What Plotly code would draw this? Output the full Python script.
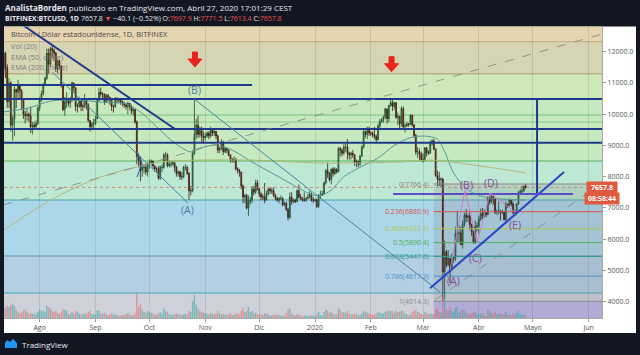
import plotly.graph_objects as go
import pandas as pd

# ---------------- DATA ----------------
close_jul = [11950, 11500, 10400, 11000, 9650, 9850, 10800, 10700, 10900, 10750, 10450, 10000, 9950, 10000, 9950, 9600, 9650, 9600, 9700, 10200]
high_jul = [12100, 12000, 11600, 11150, 11050, 9950, 10900, 10800, 11100, 10950, 10800, 10450, 10100, 10200, 10050, 10250, 9750, 9750, 9800, 10250]
low_jul = [11200, 11150, 10200, 10200, 9450, 9150, 9300, 10200, 10500, 10500, 10150, 9850, 9700, 9800, 9750, 9400, 9350, 9500, 9550, 9650]

close_aug = [10450, 10650, 10950, 11150, 11950, 11600, 12100, 12050, 11950, 11450, 11700, 11550, 10950, 10150, 10400, 10450, 10350, 10450, 11000, 10850, 10250, 10250, 10500, 10250, 10250, 10450, 10300, 9800, 9600, 9700, 9700]
high_aug = [10550, 10750, 11000, 11200, 12100, 12100, 12150, 12200, 12100, 12000, 11750, 11750, 11550, 10950, 10550, 10700, 10500, 10550, 11050, 11000, 10850, 10350, 10550, 10500, 10350, 10650, 10500, 10350, 9800, 9750, 9850]
low_aug = [10100, 10400, 10600, 10900, 11100, 11300, 11500, 11800, 11700, 11350, 11300, 11450, 10850, 10100, 9950, 10200, 10250, 10200, 10400, 10700, 10100, 10050, 10200, 10100, 10100, 10200, 10150, 9750, 9450, 9500, 9550]

close_sep = [9850, 10450, 10700, 10650, 10650, 10400, 10600, 10550, 10450, 10250, 10250, 10500, 10450, 10450, 10400, 10350, 10300, 10250, 10350, 10250, 10100, 10150, 9750, 8650, 8550, 8200, 8300, 8300, 8150, 8400]
high_sep = [9950, 10500, 10850, 10850, 10700, 10650, 10650, 10650, 10550, 10450, 10300, 10550, 10550, 10500, 10450, 10450, 10400, 10350, 10400, 10350, 10300, 10200, 10150, 9800, 8750, 8650, 8400, 8400, 8400, 8450]
low_sep = [9650, 9850, 10400, 10550, 10500, 10300, 10350, 10400, 10300, 10100, 10050, 10200, 10350, 10350, 10300, 10250, 10200, 10150, 10000, 10150, 10000, 9950, 9700, 8400, 8300, 7850, 8000, 8100, 8050, 8000]

close_oct = [8450, 8500, 8350, 8250, 8250, 7950, 8300, 8300, 8700, 8700, 8350, 8400, 8400, 8450, 8300, 8100, 8150, 8000, 8000, 8300, 8300, 8100, 7550, 7550, 8750, 9350, 9650, 9350, 9550, 9300, 9250]
high_oct = [8550, 8550, 8500, 8350, 8300, 8350, 8350, 8400, 8750, 8800, 8750, 8500, 8500, 8500, 8450, 8350, 8200, 8200, 8150, 8350, 8400, 8350, 8150, 7700, 8850, 10490, 9850, 9950, 9600, 9600, 9450]
low_oct = [8250, 8350, 8250, 8150, 8150, 7900, 7900, 8150, 8250, 8500, 8300, 8300, 8300, 8350, 8150, 8000, 8000, 7900, 7900, 7950, 8200, 8050, 7250, 7400, 7500, 8700, 9200, 9250, 9250, 9100, 9050]

close_nov = [9300, 9400, 9300, 9500, 9400, 9450, 9300, 8850, 8900, 9100, 8800, 8900, 8850, 8700, 8550, 8550, 8550, 8250, 8200, 8150, 7700, 7350, 7400, 7000, 7200, 7250, 7600, 7500, 7800, 7600]
high_nov = [9400, 9450, 9450, 9600, 9550, 9500, 9450, 9350, 8950, 9200, 9150, 8950, 8900, 8850, 8700, 8600, 8650, 8600, 8300, 8250, 8150, 7750, 7450, 7450, 7400, 7350, 7700, 7700, 7900, 7900]
low_nov = [9150, 9250, 9200, 9250, 9300, 9300, 9200, 8750, 8750, 8850, 8700, 8750, 8750, 8650, 8450, 8450, 8450, 8200, 8100, 8000, 7600, 7150, 7150, 6950, 6750, 7100, 7150, 7400, 7450, 7550]

close_dec = [7450, 7350, 7350, 7250, 7450, 7600, 7550, 7550, 7400, 7300, 7250, 7300, 7300, 7100, 7150, 6950, 6700, 7350, 7200, 7250, 7200, 7550, 7350, 7300, 7250, 7250, 7300, 7350, 7450, 7250, 7250]
high_dec = [7650, 7500, 7450, 7800, 7550, 7650, 7650, 7650, 7650, 7450, 7350, 7350, 7400, 7350, 7200, 7200, 7000, 7500, 7500, 7300, 7300, 7600, 7750, 7450, 7350, 7500, 7350, 7450, 7550, 7500, 7350]
low_dec = [7350, 7250, 7250, 7150, 7250, 7400, 7450, 7450, 7350, 7250, 7200, 7150, 7250, 7050, 7050, 6900, 6600, 6650, 7100, 7150, 7150, 7200, 7300, 7250, 7200, 7200, 7200, 7300, 7300, 7200, 7150]

close_jan = [7250, 7050, 7400, 7400, 7450, 7800, 8200, 8100, 7900, 8250, 8100, 8250, 8150, 8900, 8850, 8750, 8950, 8950, 8750, 8700, 8750, 8700, 8450, 8500, 8400, 8650, 8950, 9450, 9350, 9550, 9400]
high_jan = [7300, 7300, 7450, 7550, 7550, 7850, 8250, 8450, 8150, 8250, 8300, 8300, 8250, 8950, 8950, 8900, 9050, 9050, 9200, 8800, 8800, 8850, 8700, 8550, 8500, 8700, 9000, 9500, 9450, 9600, 9600]
low_jan = [7200, 7000, 7000, 7300, 7400, 7450, 7750, 7950, 7850, 7750, 8000, 8050, 8100, 8150, 8650, 8650, 8700, 8800, 8550, 8550, 8550, 8600, 8350, 8300, 8300, 8350, 8650, 8900, 9250, 9200, 9300]

close_feb = [9380, 9340, 9290, 9180, 9620, 9770, 9810, 9910, 10170, 9860, 10270, 10370, 10250, 10370, 9900, 9930, 9700, 10180, 9600, 9620, 9690, 9670, 9970, 9660, 9320, 8790, 8800, 8720, 8550]
high_feb = [9450, 9450, 9600, 9350, 9700, 9850, 9880, 9950, 10200, 10170, 10300, 10480, 10500, 10400, 10380, 10050, 9950, 10250, 10250, 9700, 9750, 9720, 10000, 9980, 9680, 9370, 8950, 8900, 8800]
low_feb = [9300, 9250, 9200, 9100, 9170, 9550, 9720, 9730, 9850, 9700, 9750, 10250, 10100, 10150, 9850, 9650, 9550, 9600, 9550, 9420, 9600, 9600, 9650, 9600, 9250, 8700, 8600, 8500, 8500]

close_mar = [8530, 8920, 8760, 8750, 9070, 9150, 8890, 8030, 7930, 7900, 7930, 4950, 5600, 5180, 5380, 5020, 5360, 5410, 6180, 6190, 6200, 5830, 6480, 6770, 6700, 6740, 6470, 6250, 5880, 6400, 6430]
high_mar = [8750, 8950, 8950, 8850, 9150, 9200, 9200, 8900, 8200, 8150, 7980, 7950, 5950, 5650, 5650, 5400, 5550, 5450, 6400, 6900, 6450, 6400, 6600, 6850, 6960, 6800, 6880, 6500, 6260, 6600, 6550]
low_mar = [8450, 8500, 8650, 8700, 8730, 9000, 8850, 8000, 7700, 7700, 7650, 4014, 4100, 5100, 5150, 4600, 5000, 5250, 5300, 5900, 5870, 5800, 5700, 6400, 6550, 6550, 6300, 6100, 5880, 5850, 6250]

close_apr = [6650, 6810, 6740, 6860, 6780, 7340, 7200, 7370, 7300, 6870, 6890, 6910, 6850, 6860, 6630, 7120, 7080, 7260, 7130, 6850, 6860, 7130, 7490, 7520, 7540, 7697.9, 7657.8]
high_apr = [6750, 6980, 7000, 6950, 6880, 7370, 7470, 7430, 7380, 7300, 6950, 7200, 6930, 6950, 6900, 7200, 7150, 7300, 7270, 7200, 6950, 7150, 7550, 7600, 7700, 7710, 7771.5]
low_apr = [6180, 6580, 6650, 6700, 6700, 6790, 7100, 7150, 7100, 6800, 6770, 6800, 6600, 6800, 6600, 6500, 7000, 7050, 7050, 6800, 6750, 6830, 7100, 7420, 7450, 7530, 7613.4]

vol_jul = [45, 40, 50, 45, 55, 60, 50, 35, 25, 20, 25, 30, 35, 25, 20, 20, 18, 15, 18, 25]
vol_aug = [35, 30, 30, 25, 50, 45, 40, 30, 25, 30, 20, 18, 25, 35, 35, 30, 18, 15, 25, 20, 30, 25, 20, 15, 15, 20, 15, 25, 30, 18, 15]
vol_sep = [15, 30, 30, 20, 18, 22, 15, 12, 15, 18, 15, 15, 12, 10, 10, 12, 12, 15, 20, 14, 12, 10, 20, 100, 45, 55, 35, 25, 22, 30]
vol_oct = [25, 20, 18, 15, 12, 18, 25, 18, 40, 30, 25, 15, 12, 14, 15, 18, 14, 15, 10, 15, 18, 14, 30, 25, 70, 95, 55, 40, 30, 25, 22]
vol_nov = [20, 18, 15, 20, 18, 15, 18, 30, 18, 15, 18, 14, 12, 15, 20, 12, 12, 20, 18, 15, 30, 40, 25, 30, 45, 25, 30, 20, 22, 15]
vol_dec = [15, 14, 12, 20, 18, 15, 10, 10, 12, 14, 12, 12, 10, 10, 8, 20, 35, 40, 20, 12, 10, 15, 15, 10, 8, 10, 10, 8, 10, 12, 10]
vol_jan = [8, 15, 25, 12, 10, 25, 35, 30, 20, 25, 18, 15, 15, 40, 35, 22, 25, 20, 30, 15, 15, 14, 18, 15, 10, 12, 20, 30, 25, 22, 20]
vol_feb = [15, 12, 15, 18, 25, 22, 20, 18, 25, 30, 28, 30, 28, 22, 30, 25, 25, 30, 30, 20, 15, 10, 15, 25, 30, 35, 25, 22, 18]
vol_mar = [15, 25, 20, 15, 20, 18, 15, 35, 40, 25, 22, 90, 110, 35, 30, 45, 30, 25, 40, 45, 25, 30, 35, 30, 22, 18, 20, 18, 25, 25, 15]
vol_apr = [20, 18, 18, 12, 10, 35, 30, 20, 15, 25, 15, 18, 20, 12, 15, 25, 15, 15, 10, 20, 18, 22, 30, 15, 12, 18, 10]

first_open = 11400

# EMA lines
ema50_dates = ["2019-07-12", "2019-07-26", "2019-08-07", "2019-08-21", "2019-09-04", "2019-09-18", "2019-09-26",
               "2019-10-07", "2019-10-15", "2019-10-24", "2019-10-29", "2019-11-08", "2019-11-18", "2019-11-27",
               "2019-12-07", "2019-12-17", "2019-12-27", "2020-01-03", "2020-01-10", "2020-01-17", "2020-01-26",
               "2020-02-05", "2020-02-14", "2020-02-23", "2020-03-02", "2020-03-09", "2020-03-13", "2020-03-18",
               "2020-03-26", "2020-04-04", "2020-04-15", "2020-04-27"]
ema50_vals = [10070, 10200, 10420, 10450, 10390, 10330, 10070, 9490, 9080, 8790, 8920, 9010, 8790, 8470,
              8150, 7830, 7510, 7380, 7570, 8000, 8300, 8600, 9000, 9250, 9300, 9200, 8800, 8120,
              7570, 7350, 7280, 7250]
ema200_dates = ["2019-07-12", "2019-08-07", "2019-09-04", "2019-10-07", "2019-10-29", "2019-11-27",
                "2020-01-02", "2020-01-26", "2020-02-17", "2020-03-06", "2020-04-02", "2020-04-27"]
ema200_vals = [6290, 7250, 7990, 8470, 8530, 8530, 8440, 8440, 8470, 8530, 8340, 8120]

# Fibonacci retracement (right box)
fib_ratios = ["0", "0.236", "0.382", "0.5", "0.618", "0.786", "1"]
fib_prices = [7766.4, 6880.9, 6333.1, 5890.4, 5447.6, 4817.3, 4014.3]
fib_colors = ["#8f8580", "#d9534f", "#b3c647", "#4caf50", "#2a9d8f", "#4f8fc6", "#8a8a8a"]

month_ticks = ["2019-08-01", "2019-09-01", "2019-10-01", "2019-11-01", "2019-12-01", "2020-01-01",
               "2020-02-01", "2020-03-01", "2020-04-01", "2020-05-01", "2020-06-01"]
month_labels = ["Ago", "Sep", "Oct", "Nov", "Dic", "2020", "Feb", "Mar", "Abr", "Mayo", "Jun"]
price_ticks = [4000, 5000, 6000, 7000, 8000, 9000, 10000, 11000, 12000]

# ---------------- assemble ----------------
closes = close_jul + close_aug + close_sep + close_oct + close_nov + close_dec + close_jan + close_feb + close_mar + close_apr
highs = high_jul + high_aug + high_sep + high_oct + high_nov + high_dec + high_jan + high_feb + high_mar + high_apr
lows = low_jul + low_aug + low_sep + low_oct + low_nov + low_dec + low_jan + low_feb + low_mar + low_apr
volumes = vol_jul + vol_aug + vol_sep + vol_oct + vol_nov + vol_dec + vol_jan + vol_feb + vol_mar + vol_apr
dates = pd.date_range("2019-07-12", "2020-04-27", freq="D")
assert len(dates) == len(closes) == len(highs) == len(lows) == len(volumes)
opens = [first_open] + closes[:-1]
highs = [max(h, o, c) for h, o, c in zip(highs, opens, closes)]
lows = [min(l, o, c) for l, o, c in zip(lows, opens, closes)]
vol_colors = ["rgba(38,166,154,0.55)" if c >= o else "rgba(239,83,80,0.5)" for o, c in zip(opens, closes)]

W, H = 640, 355
def px(x):
    return x / W
def py(y):
    return 1 - y / H

FONT = "Open Sans"
fig = go.Figure()
fig.add_trace(go.Bar(x=dates, y=volumes, marker_color=vol_colors, marker_line_width=0, yaxis="y2",
                     width=0.75 * 86400000, hoverinfo="skip", showlegend=False))
fig.add_trace(go.Candlestick(x=dates, open=opens, high=highs, low=lows, close=closes, whiskerwidth=0,
                             increasing=dict(line=dict(color="#1f4a2e", width=0.8), fillcolor="#3f9a5c"),
                             decreasing=dict(line=dict(color="#3d1710", width=0.8), fillcolor="#a8402f"),
                             showlegend=False))
fig.add_trace(go.Scatter(x=ema50_dates, y=ema50_vals, mode="lines", line=dict(color="#5a9696", width=1, shape="spline", smoothing=0.8),
                         hoverinfo="skip", showlegend=False))
fig.add_trace(go.Scatter(x=ema200_dates, y=ema200_vals, mode="lines", line=dict(color="#b3b878", width=1, shape="spline", smoothing=0.8),
                         hoverinfo="skip", showlegend=False))

shapes = []
# white axis panels
shapes.append(dict(type="rect", xref="paper", yref="paper", x0=px(602), x1=px(636), y0=py(333), y1=py(26.5),
                   fillcolor="white", line_width=0, layer="below"))
shapes.append(dict(type="rect", xref="paper", yref="paper", x0=px(4), x1=px(636), y0=py(333), y1=py(318),
                   fillcolor="white", line_width=0, layer="below"))

# background bands
bands = [(12320, 13500, "#e6d5b1"), (11290, 12320, "#d6d5b3"), (10486, 11290, "#cfe8b9"),
         (8502, 10486, "#c6e9bf"), (7254, 8502, "#bde8d3"), (5462, 7254, "#acd7ea"),
         (4278, 5462, "#b3cfe4"), (3000, 4278, "#cfd1da")]
for a, b, c in bands:
    shapes.append(dict(type="rect", xref="x domain", x0=0, x1=1, yref="y", y0=a, y1=b,
                       fillcolor=c, line_width=0, layer="below"))
# fib box overlays
shapes.append(dict(type="rect", xref="x", x0="2020-03-06 22:00", x1="2020-06-20", yref="y", y0=4014.3, y1=7766.4,
                   fillcolor="rgba(130,130,140,0.22)", line_width=0, layer="below"))
shapes.append(dict(type="rect", xref="x", x0="2020-03-06 22:00", x1="2020-06-20", yref="y", y0=3000, y1=4014.3,
                   fillcolor="rgba(120,100,205,0.35)", line_width=0, layer="below"))

def hline(price, color, width=1, x0=None, x1=None, dash="solid", layer="above"):
    if x0 is None:
        return dict(type="line", xref="x domain", x0=0, x1=1, yref="y", y0=price, y1=price,
                    line=dict(color=color, width=width, dash=dash), layer=layer)
    return dict(type="line", xref="x", x0=x0, x1=x1, yref="y", y0=price, y1=price,
                line=dict(color=color, width=width, dash=dash), layer=layer)

# left full-width level lines
for p_, c_ in [(12320, "#c2aa7c"), (11290, "#a99b6a"), (9974, "#72c276"), (9750, "#84cc84"),
               (8502, "#55b45a"), (7254, "#40a6ad"), (5462, "#6496aa"), (4278, "#3fa3b3")]:
    shapes.append(hline(p_, c_, 1, layer="below"))
# current price line
shapes.append(hline(7657.8, "rgba(214,110,90,0.8)", 1, dash="dot"))
# fib box level lines
for p_, c_ in zip(fib_prices, fib_colors):
    shapes.append(hline(p_, c_, 1, x0="2020-03-06 22:00", x1="2020-06-20"))

NAVY = "#1f3a8c"
shapes.append(hline(10934, NAVY, 2, x0="2019-07-01", x1="2019-11-27"))
shapes.append(hline(10486, NAVY, 2))
shapes.append(hline(9526, NAVY, 2))
shapes.append(hline(9088, NAVY, 2))

def seg(xa, ya, xb, yb, color, width=1, dash="solid"):
    return dict(type="line", xref="x", yref="y", x0=xa, y0=ya, x1=xb, y1=yb,
                line=dict(color=color, width=width, dash=dash))

shapes.append(seg("2019-07-21", 12918, "2019-10-15 05:00", 9526, NAVY, 2))
shapes.append(seg("2019-08-08", 11350, "2019-10-22 10:00", 7158, "#3f86a6", 1))
shapes.append(seg("2019-10-25 20:00", 10486, "2020-03-10 10:00", 4310, "#3f86a6", 1))
shapes.append(seg("2019-07-11 16:00", 7094, "2020-06-08 10:00", 12566, "rgba(130,130,130,0.8)", 1, "dash"))
shapes.append(seg("2020-03-07 16:00", 4054, "2020-06-08 10:00", 7798, "rgba(130,130,130,0.8)", 1, "dash"))
shapes.append(seg("2020-03-04 22:00", 4429, "2020-05-18 08:00", 8150, "#2746c8", 2))
shapes.append(seg("2020-02-13 08:00", 7446, "2020-05-23 08:00", 7446, "#5a4fc2", 2))
shapes.append(seg("2020-05-03 08:00", 10486, "2020-05-03 08:00", 7478, NAVY, 2))
# small blue marks near the September drop
shapes.append(seg("2019-09-24 03:00", 8758, "2019-09-26 22:00", 8438, "#2a4fd0", 1))
shapes.append(seg("2019-09-26 22:00", 8438, "2019-09-24 03:00", 7990, "#2a4fd0", 1))
# pink wave path
wave_x = ["2020-03-16", "2020-03-24 08:00", "2020-03-31", "2020-04-07 05:00", "2020-04-21 03:00"]
wave_y = [5014, 7574, 5878, 7478, 6870]
for i in range(len(wave_x) - 1):
    shapes.append(seg(wave_x[i], wave_y[i], wave_x[i + 1], wave_y[i + 1], "#d377cf", 1))

# red down arrows (fixed pixel size, anchored at their tip)
ARROW = "M 0,0 L -7,8 L -2.5,8 L -2.5,15 L 2.5,15 L 2.5,8 L 7,8 Z"
for xd, yv in [("2019-10-26 07:00", 11510), ("2020-02-12 12:00", 11360)]:
    shapes.append(dict(type="path", xref="x", yref="y", xsizemode="pixel", ysizemode="pixel",
                       xanchor=xd, yanchor=yv, path=ARROW, fillcolor="#e8241c",
                       line=dict(color="#e8241c", width=1)))

# tradingview logo (footer)
shapes.append(dict(type="path", xref="paper", yref="paper",
                   path=f"M {px(5)},{py(348)} L {px(17)},{py(348)} L {px(17)},{py(343)} L {px(13)},{py(339)} L {px(10)},{py(342)} L {px(7)},{py(340)} L {px(5)},{py(343)} Z",
                   fillcolor="#2196f3", line_width=0))

annotations = []
# header
annotations.append(dict(xref="paper", yref="paper", x=px(3), y=py(7.5), xanchor="left", yanchor="middle", showarrow=False,
                        text="<b>AnalistaBorden</b> publicado en TradingView.com, Abril 27, 2020 17:01:29 CEST",
                        font=dict(family=FONT, size=8, color="#e6e8ee")))
R = "#ef5350"
annotations.append(dict(xref="paper", yref="paper", x=px(3), y=py(18), xanchor="left", yanchor="middle", showarrow=False,
                        text=(f"<b>BITFINEX:BTCUSD, 1D</b> 7657.8 <span style='color:{R}'>▼</span> −40.1 (−0.52%) "
                              f"O:<span style='color:{R}'>7697.9</span> H:<span style='color:{R}'>7771.5</span> "
                              f"L:<span style='color:{R}'>7613.4</span> C:<span style='color:{R}'>7657.8</span>"),
                        font=dict(family=FONT, size=7, color="#e6e8ee")))
# legend texts
annotations.append(dict(xref="paper", yref="paper", x=px(9), y=py(34), xanchor="left", yanchor="middle", showarrow=False,
                        text="Bitcoin / Dólar estadounidense, 1D, BITFINEX", font=dict(family=FONT, size=7.5, color="#4a4a4a")))
for yy, t in [(46, "Vol (20)"), (57, "EMA (50, close)"), (67.5, "EMA (200, close)")]:
    annotations.append(dict(xref="paper", yref="paper", x=px(9), y=py(yy), xanchor="left", yanchor="middle", showarrow=False,
                            text=t, font=dict(family=FONT, size=7.5, color="#7d7d7d")))
# footer
annotations.append(dict(xref="paper", yref="paper", x=px(20), y=py(344), xanchor="left", yanchor="middle", showarrow=False,
                        text="TradingView", font=dict(family=FONT, size=8, color="#e6e8ee")))
# wave labels
for xd, yv, t, c in [("2019-10-21 22:00", 6934, "(A)", "#4d7ea3"), ("2019-10-26 07:00", 10774, "(B)", "#4d7ea3"),
                     ("2020-03-17 17:00", 4662, "(A)", "#8a4c9e"), ("2020-03-24 22:00", 7734, "(B)", "#8a4c9e"),
                     ("2020-03-30 10:00", 5398, "(C)", "#8a4c9e"), ("2020-04-07 19:00", 7798, "(D)", "#8a4c9e"),
                     ("2020-04-21 03:00", 6454, "(E)", "#8a4c9e")]:
    annotations.append(dict(xref="x", yref="y", x=xd, y=yv, showarrow=False, text=t,
                            font=dict(family=FONT, size=10.5, color=c)))
# fib labels
for r_, p_, c_ in zip(fib_ratios, fib_prices, fib_colors):
    annotations.append(dict(xref="x", yref="y", x="2020-03-05 12:00", y=p_, xanchor="right", yanchor="middle",
                            showarrow=False, text=f"{r_}({p_:.1f})", font=dict(family=FONT, size=7, color=c_)))
# price tags
annotations.append(dict(xref="paper", yref="y", x=px(617.5), y=7657.8, showarrow=False, text="<b>7657.8</b>",
                        bgcolor="#e05a3f", font=dict(family=FONT, size=7, color="white"), borderpad=1, width=28))
annotations.append(dict(xref="paper", yref="y", x=px(619.5), y=7657.8, yshift=-11.5, showarrow=False, text="<b>08:58:44</b>",
                        bgcolor="#e05a3f", font=dict(family=FONT, size=7, color="white"), borderpad=1, width=32))

fig.update_layout(
    width=W, height=H, margin=dict(l=0, r=0, t=0, b=0),
    paper_bgcolor="#131722", plot_bgcolor="#c6e9bf", showlegend=False,
    font=dict(family=FONT),
    shapes=shapes, annotations=annotations,
    xaxis=dict(type="date", domain=[px(4), px(602)], range=["2019-07-12 05:00", "2020-06-08 10:00"],
               tickvals=month_ticks, ticktext=month_labels, tickfont=dict(size=7, color="#555"),
               showgrid=True, gridcolor="rgba(110,110,110,0.2)", gridwidth=1, ticks="outside", ticklen=3,
               tickcolor="#999", showline=True, linecolor="#aaa", zeroline=False,
               rangeslider=dict(visible=False), fixedrange=True),
    yaxis=dict(domain=[py(318), py(26.5)], range=[3478.4, 12806.4], side="right", tickvals=price_ticks,
               ticktext=[f"{v:.1f}" for v in price_ticks], tickfont=dict(size=7, color="#555"),
               showgrid=False, ticks="outside", ticklen=3, tickcolor="#999", showline=True, linecolor="#aaa",
               zeroline=False, fixedrange=True),
    yaxis2=dict(overlaying="y", range=[0, 1200], visible=False, fixedrange=True),
)
fig.write_html("out.html")
